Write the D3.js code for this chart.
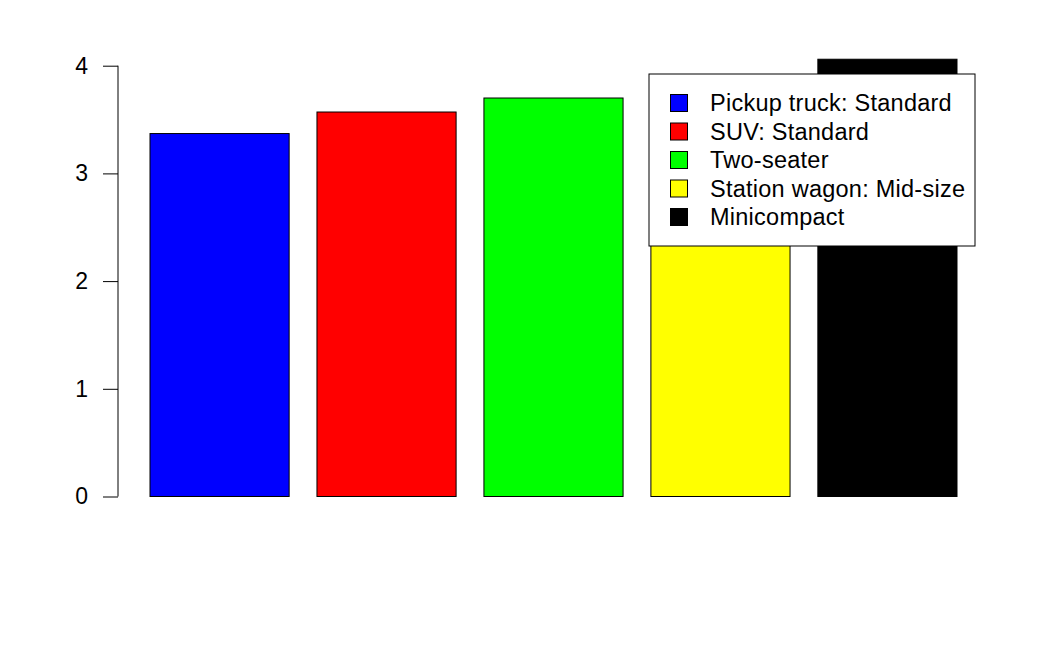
<!DOCTYPE html>
<html><head><meta charset="utf-8">
<script src="https://cdn.jsdelivr.net/npm/d3@7"></script>
<style>body{margin:0;background:#fff}svg{display:block}text{font-family:"Liberation Sans",Arial,Helvetica,sans-serif}</style>
</head><body><svg id="c" width="1050" height="648"></svg>
<script>
const categories = ["Pickup truck: Standard","SUV: Standard","Two-seater","Station wagon: Mid-size","Minicompact"];
const values = [3.37, 3.57, 3.70, 3.85, 4.06];
const colors = ["#0000FF","#FF0000","#00FF00","#FFFF00","#000000"];
const yTicks = [0,1,2,3,4];

const svg = d3.select("#c");
const x = d3.scaleBand().domain(categories).range([150, 957]).paddingInner(0.2/1.2).paddingOuter(0);
const y = d3.scaleLinear().domain([0,4]).range([496.5, 65.7]);

svg.selectAll("rect.bar").data(categories).join("rect")
  .attr("class","bar")
  .attr("x", d => x(d)).attr("width", x.bandwidth())
  .attr("y", (d,i) => y(values[i])).attr("height", (d,i) => y(0) - y(values[i]))
  .attr("fill", (d,i) => colors[i]).attr("stroke","#000").attr("stroke-width",1);

const ax = svg.append("g").attr("transform","translate(118,0)")
  .call(d3.axisLeft(y).tickValues(yTicks).tickFormat(d3.format("d")).tickSize(15).tickPadding(15));
ax.select(".domain").attr("d", `M0,${y(0)}V${y(4)}`).attr("stroke","#000");
ax.selectAll(".tick line").attr("stroke","#000");
ax.selectAll(".tick text").attr("font-size",23).attr("fill","#000").attr("font-family",'"Liberation Sans",Arial,sans-serif');

// legend
const lg = svg.append("g");
lg.append("rect").attr("x",649).attr("y",74).attr("width",326).attr("height",172)
  .attr("fill","#fff").attr("stroke","#000").attr("stroke-width",1);
const rowY = d3.scaleLinear().domain([0,4]).range([103, 217]);
lg.selectAll("rect.key").data(categories).join("rect").attr("class","key")
  .attr("x",670.5).attr("y",(d,i)=>rowY(i)-8.5).attr("width",17).attr("height",17)
  .attr("fill",(d,i)=>colors[i]).attr("stroke","#000").attr("stroke-width",1);
lg.selectAll("text.lab").data(categories).join("text").attr("class","lab")
  .attr("x",710).attr("y",(d,i)=>rowY(i)).attr("dy","0.35em")
  .attr("font-size",23.5).attr("letter-spacing","0.25px").attr("fill","#000").text(d=>d);
</script></body></html>
